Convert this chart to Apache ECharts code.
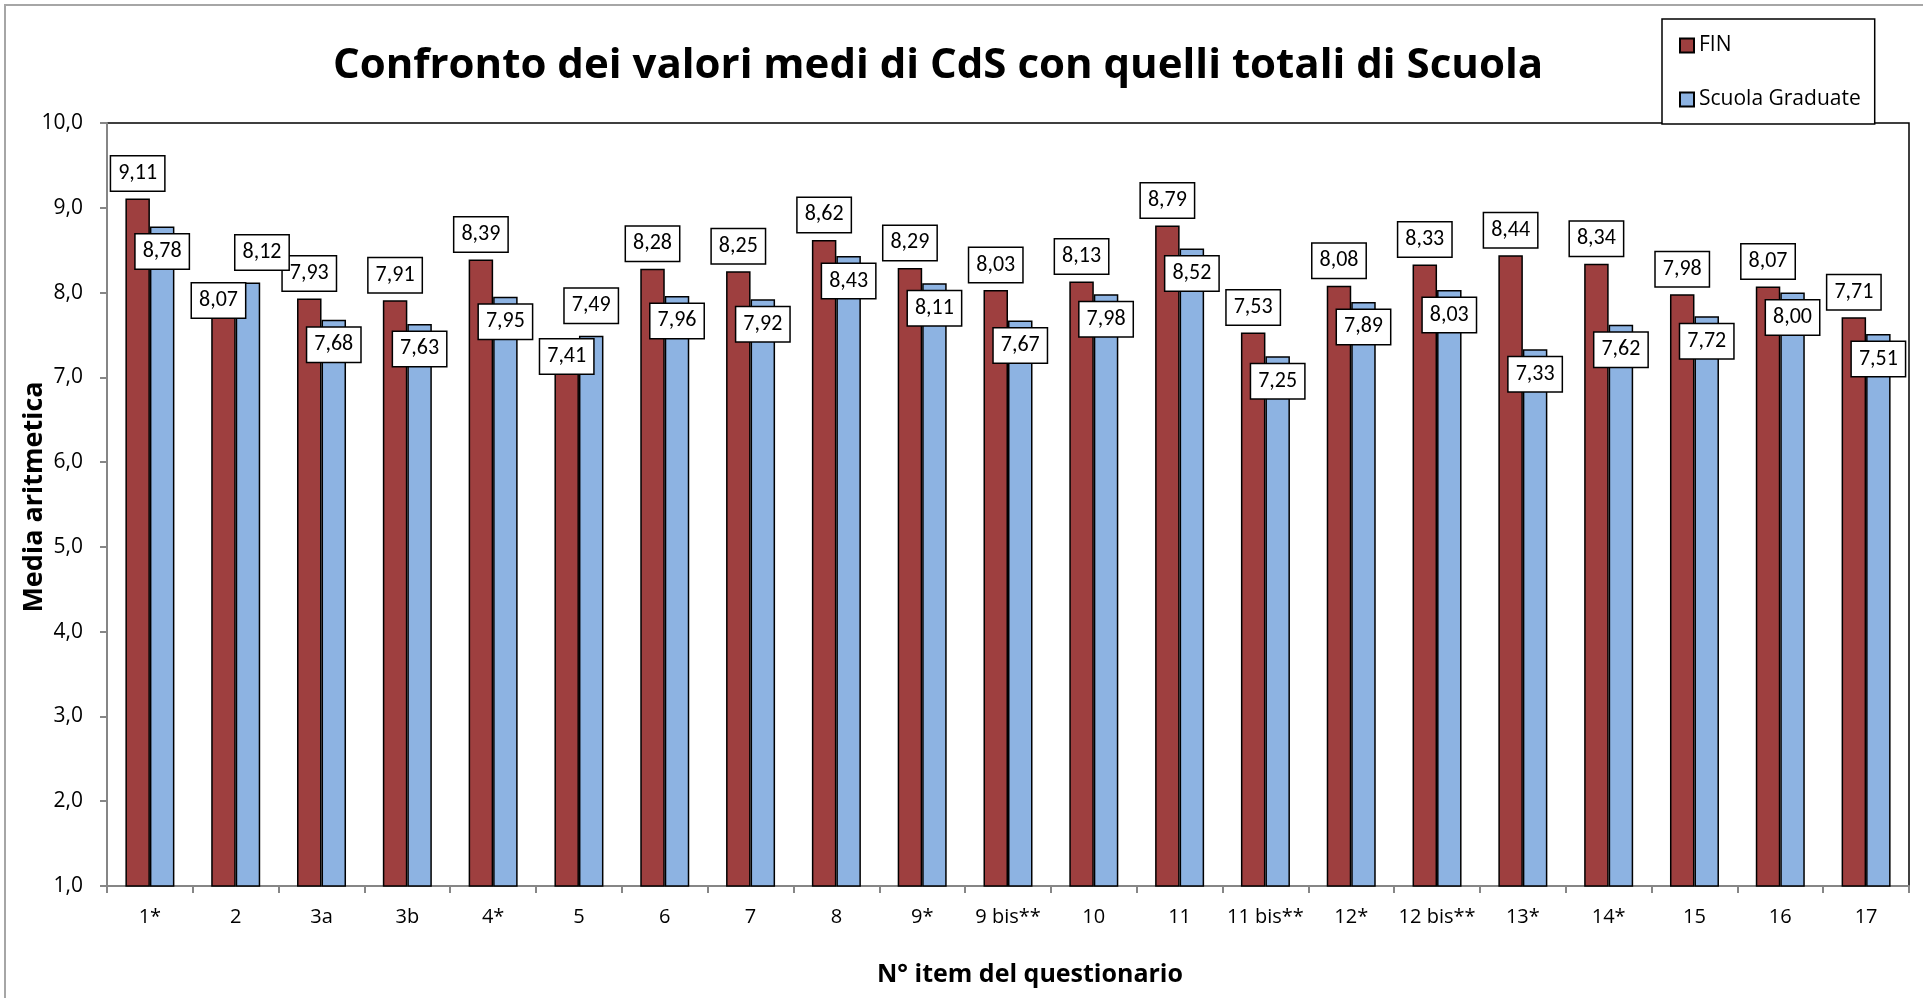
<!DOCTYPE html>
<html>
<head>
<meta charset="utf-8">
<script src="https://cdn.jsdelivr.net/npm/echarts@6/dist/echarts.min.js"></script>
<style>
  html, body { margin: 0; padding: 0; background: #fff; }
  #chart { width: 1923px; height: 998px; }
</style>
</head>
<body>
<div id="chart"></div>
<script>
// dati
var items = ['1*', '2', '3a', '3b', '4*', '5', '6', '7', '8', '9*', '9 bis**', '10', '11', '11 bis**', '12*', '12 bis**', '13*', '14*', '15', '16', '17'];
var fin = [9.11, 8.07, 7.93, 7.91, 8.39, 7.41, 8.28, 8.25, 8.62, 8.29, 8.03, 8.13, 8.79, 7.53, 8.08, 8.33, 8.44, 8.34, 7.98, 8.07, 7.71];
var scuola = [8.78, 8.12, 7.68, 7.63, 7.95, 7.49, 7.96, 7.92, 8.43, 8.11, 7.67, 7.98, 8.52, 7.25, 7.89, 8.03, 7.33, 7.62, 7.72, 8.00, 7.51];
var yTicks = [1, 2, 3, 4, 5, 6, 7, 8, 9, 10];

var comic = '"Comic Sans MS", "Open Sans", sans-serif';
var calibri = 'Calibri, Carlito, "Liberation Sans", sans-serif';

function virgola(v, d) {
  return v.toFixed(d).replace('.', ',');
}

var boxLabel = {
  show: true,
  fontFamily: calibri,
  fontSize: 22,
  color: '#000',
  backgroundColor: '#fff',
  borderColor: '#000',
  borderWidth: 1.5,
  padding: [6, 7],
  lineHeight: 22,
  formatter: function (p) { return virgola(p.value, 2); }
};

// la serie più alta ha l'etichetta sopra, l'altra dentro la barra
var finData = fin.map(function (v, i) {
  var sotto = scuola[i] > v;
  var lab = sotto ? { position: 'insideTop', distance: -3 } : { position: 'top', distance: 8 };
  if (i === 1) lab.offset = [-5, 0];
  return { value: v, label: lab };
});
var scuolaData = scuola.map(function (v, i) {
  var sopra = v > fin[i];
  var lab = sopra ? { position: 'top', distance: 13 } : { position: 'insideTop', distance: 8 };
  if (i === 1) lab.offset = [14, 0];
  return { value: v, label: lab };
});

var chart = echarts.init(document.getElementById('chart'));

var option = {
  animation: false,
  backgroundColor: '#fff',
  graphic: [
    {
      type: 'rect',
      shape: { x: 5, y: 5, width: 2100, height: 1200 },
      style: { fill: 'none', stroke: '#a6a6a6', lineWidth: 2 },
      silent: true
    },
    {
      type: 'text',
      x: 938,
      y: 66,
      style: {
        text: 'Confronto dei valori medi di CdS con quelli totali di Scuola',
        fontFamily: comic,
        fontWeight: 'bold',
        fontSize: 42,
        fill: '#000',
        textAlign: 'center',
        textVerticalAlign: 'middle'
      }
    },
    {
      type: 'text',
      x: 34,
      y: 497,
      rotation: Math.PI / 2,
      style: {
        text: 'Media aritmetica',
        fontFamily: comic,
        fontWeight: 'bold',
        fontSize: 27,
        fill: '#000',
        textAlign: 'center',
        textVerticalAlign: 'middle'
      }
    }
  ],
  legend: {
    orient: 'vertical',
    left: 1662,
    top: 19,
    padding: [16, 14, 14, 17],
    itemGap: 33,
    itemWidth: 14,
    itemHeight: 14,
    icon: 'rect',
    borderColor: '#000',
    borderWidth: 1.5,
    backgroundColor: '#fff',
    textStyle: { fontFamily: comic, fontSize: 21, color: '#000' },
    data: ['FIN', 'Scuola Graduate']
  },
  grid: {
    left: 107,
    right: 14,
    top: 123,
    bottom: 112,
    show: true,
    borderColor: '#000',
    borderWidth: 1.5
  },
  xAxis: {
    type: 'category',
    data: items,
    name: 'N° item del questionario',
    nameLocation: 'middle',
    nameGap: 76,
    nameTextStyle: { fontFamily: comic, fontWeight: 'bold', fontSize: 25, color: '#000', padding: [0, 0, 0, 44] },
    axisLine: { lineStyle: { color: '#868686', width: 2 } },
    axisTick: { show: true, length: 7, lineStyle: { color: '#868686', width: 2 } },
    axisLabel: { interval: 0, margin: 21, fontFamily: comic, fontSize: 20, color: '#000' },
    splitLine: { show: false }
  },
  yAxis: {
    type: 'value',
    min: yTicks[0],
    max: yTicks[yTicks.length - 1],
    interval: 1,
    axisLine: { show: true, lineStyle: { color: '#868686', width: 2 } },
    axisTick: { show: true, length: 7, lineStyle: { color: '#868686', width: 2 } },
    axisLabel: {
      margin: 24,
      fontFamily: comic,
      fontSize: 21,
      color: '#000',
      formatter: function (v) { return virgola(v, 1); }
    },
    splitLine: { show: false }
  },
  series: [
    {
      name: 'FIN',
      type: 'bar',
      barWidth: 24.5,
      barGap: '0%',
      data: finData,
      itemStyle: { color: '#9e3f3f', borderColor: '#000', borderWidth: 1.5 },
      label: boxLabel
    },
    {
      name: 'Scuola Graduate',
      type: 'bar',
      barWidth: 24.5,
      barGap: '0%',
      data: scuolaData,
      itemStyle: { color: '#8db3e2', borderColor: '#000', borderWidth: 1.5 },
      label: boxLabel
    }
  ]
};

chart.setOption(option);
</script>
</body>
</html>
